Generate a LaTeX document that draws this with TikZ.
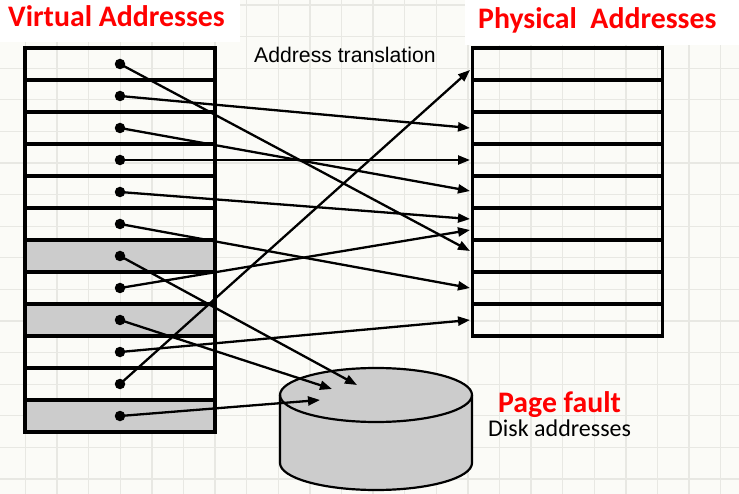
\documentclass[tikz,border=0pt]{standalone}
\usepackage{fontspec}
\setmainfont{Carlito}
\newfontfamily\arialfont{Liberation Sans}
\usetikzlibrary{arrows.meta}
\definecolor{bg}{HTML}{FBFBF7}
\definecolor{gridc}{HTML}{E8E8E3}
\definecolor{cellgray}{HTML}{CCCCCC}
\definecolor{titlered}{HTML}{FF0000}
\begin{document}
\begin{tikzpicture}[x=1pt,y=-1pt,
  cell/.style={draw, line width=3.3pt, minimum width=190pt, minimum height=32pt, inner sep=0pt},
  grayc/.style={cell, fill=cellgray},
  dotn/.style={circle, fill=black, inner sep=0pt, minimum size=10.5pt},
  arr/.style={line width=2.3pt, -{Triangle[length=12pt,width=9pt]}},
  title/.style={anchor=base west, inner sep=0pt, text=titlered, font=\bfseries\fontsize{29.8}{29.8}\selectfont},
  plain/.style={anchor=base west, inner sep=0pt, text=black}]
\useasboundingbox (0,0) rectangle (739,494);
\fill[bg] (0,0) rectangle (739,494);
% grid
\foreach \i in {0,...,23} {
  \draw[gridc, line width=1.3pt] ({25.5+31.6*\i-31.6},0) -- ({25.5+31.6*\i-31.6},494);
}
\foreach \j in {0,...,16} {
  \draw[gridc, line width=1.3pt] (0,{5+31.6*\j}) -- (739,{5+31.6*\j});
}
% white title boxes
\fill[white] (0,0) rectangle (240,42);
\fill[white] (465,0) rectangle (739,45);
% titles
\node[title] (vt) at (8,27) {Virtual Addresses};
\node[title] (pt) at (478,29) {Physical\ \ Addresses};
\node[plain, font=\arialfont\fontsize{21.2}{21.2}\selectfont] (at) at (254,63) {Address translation};
\node[title] (pf) at (498,412) {Page fault};
\node[plain, font=\fontsize{24}{24}\selectfont] (da) at (488,436) {Disk addresses};
% virtual table
\foreach \k in {1,...,12} {
  \pgfmathsetmacro{\yy}{64+32*(\k-1)}
  \ifnum\k=7 \node[grayc] (v\k) at (120,\yy) {};
  \else\ifnum\k=9 \node[grayc] (v\k) at (120,\yy) {};
  \else\ifnum\k=12 \node[grayc] (v\k) at (120,\yy) {};
  \else \node[cell] (v\k) at (120,\yy) {};
  \fi\fi\fi
}
% physical table
\foreach \k in {1,...,9} {
  \pgfmathsetmacro{\yy}{64+32*(\k-1)}
  \node[cell] (p\k) at (567.5,\yy) {};
}
% disk
\fill[cellgray] (280,395) -- (280,463) arc[start angle=180, end angle=0, x radius=96, y radius=27] -- (472,395) arc[start angle=0, end angle=-180, x radius=96, y radius=27] -- cycle;
\draw[line width=2.2pt] (280,395) -- (280,463) arc[start angle=180, end angle=0, x radius=96, y radius=27] -- (472,395);
\draw[line width=2.2pt] (376,395) ellipse[x radius=96, y radius=27];
% arrow targets
\coordinate (t1) at (470,251);
\coordinate (t2) at (470,128);
\coordinate (t3) at (470,191);
\coordinate (t4) at (470,160);
\coordinate (t5) at (470,219);
\coordinate (t6) at (470,288);
\coordinate (t7) at (357,385);
\coordinate (t8) at (470,230);
\coordinate (t9) at (332,389);
\coordinate (t10) at (470,320);
\coordinate (t11) at (470,70);
\coordinate (t12) at (320,400);
% dots
\foreach \k in {1,...,12} {
  \node[dotn] (d\k) at (120,{64+32*(\k-1)}) {};
}
% arrows
\foreach \k in {1,...,12} {
  \draw[arr] (d\k.center) -- (t\k);
}
\end{tikzpicture}
\end{document}
